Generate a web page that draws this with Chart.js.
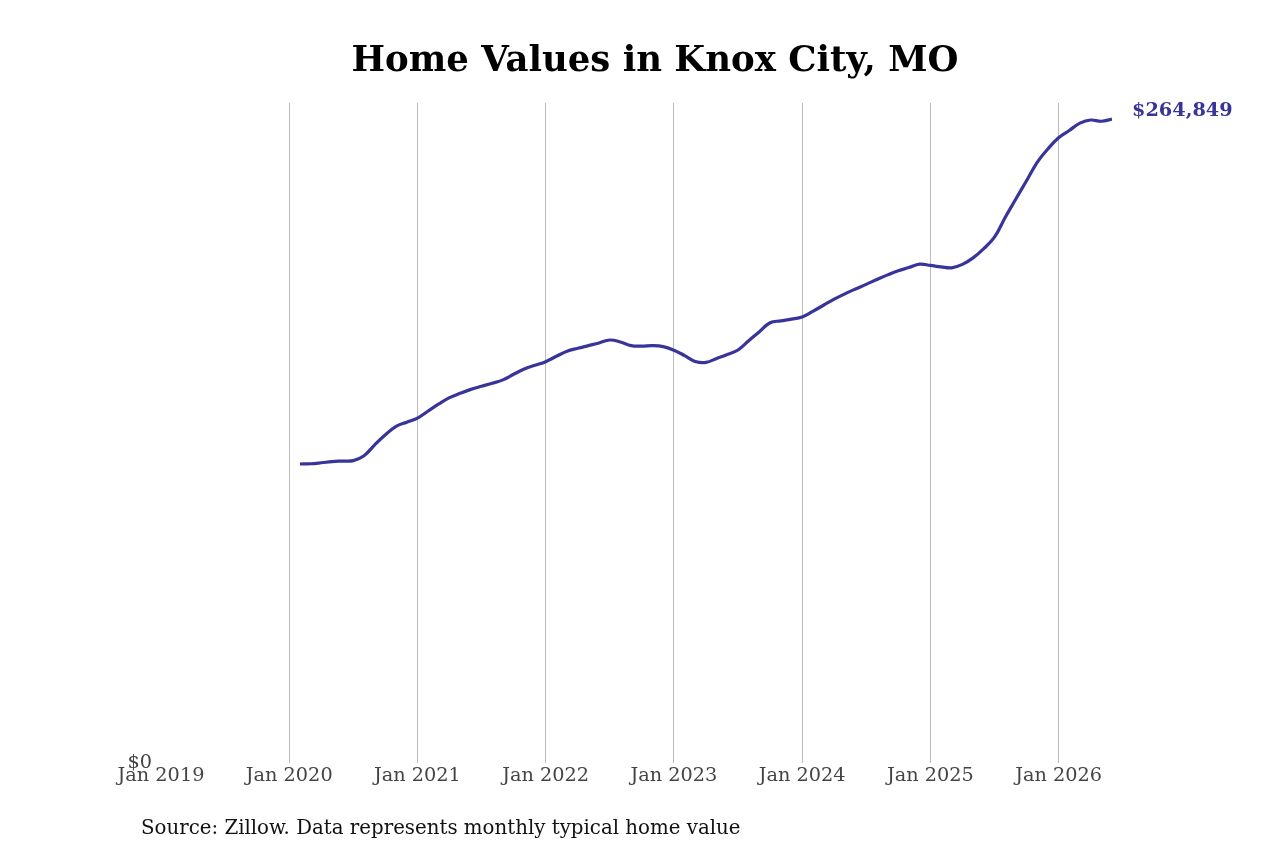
<!DOCTYPE html>
<html>
<head>
<meta charset="utf-8">
<script src="https://cdn.jsdelivr.net/npm/chart.js@4"></script>
<style>
  html, body { margin: 0; padding: 0; background: #fff; }
  #wrap { position: relative; width: 1280px; height: 853px; }
  #title {
    position: absolute; left: 0; width: 1310px; top: 38px;
    text-align: center; font: bold 35.5px "DejaVu Serif", serif; color: #000;
  }
  #source {
    position: absolute; left: 141px; top: 816px;
    font: 19.8px "DejaVu Serif", serif; color: #111;
  }
  canvas { position: absolute; left: 0; top: 0; }
</style>
</head>
<body>
<div id="wrap">
  <canvas id="chart" width="1280" height="853"></canvas>
  <div id="title">Home Values in Knox City, MO</div>
  <div id="source">Source: Zillow. Data represents monthly typical home value</div>
</div>
<script>
// months counted from Jan 2019; data runs Feb 2020 .. Jun 2026
const startMonth = 13;
const homeValues = [
  123000, 123100, 123500, 124000, 124200, 124400, 126400, 130900, 135000, 138500, 140200,
  141900, 144800, 147700, 150300, 152100, 153700, 155000, 156200, 157600, 159900, 162100, 163600,
  165100, 167300, 169400, 170600, 171700, 172800, 174000, 173200, 171700, 171500, 171700, 171300,
  169800, 167600, 165200, 164800, 166400, 168000, 169900, 173700, 177400, 181100, 181900, 182600,
  183500, 185800, 188300, 190800, 193000, 195000, 196900, 198900, 200800, 202500, 203800, 205200,
  204700, 204100, 203700, 205100, 207800, 211600, 216300, 224400, 232000, 239500, 247100, 252600,
  257200, 260200, 263200, 264500, 264000, 264849
];
const tickYears = [2019, 2020, 2021, 2022, 2023, 2024, 2025, 2026];
const lastLabel = '$264,849';

const points = homeValues.map((v, i) => ({ x: startMonth + i, y: v }));
const lineColor = '#38349a';

const endLabel = {
  id: 'endLabel',
  afterDatasetsDraw(chart) {
    const meta = chart.getDatasetMeta(0);
    const p = meta.data[meta.data.length - 1];
    const ctx = chart.ctx;
    ctx.save();
    ctx.font = 'bold 19.3px "DejaVu Serif", serif';
    ctx.fillStyle = lineColor;
    ctx.textBaseline = 'middle';
    ctx.fillText(lastLabel, p.x + 20, p.y - 8);
    ctx.restore();
  }
};

new Chart(document.getElementById('chart'), {
  type: 'line',
  data: {
    datasets: [{
      data: points,
      borderColor: lineColor,
      borderWidth: 3.2,
      pointRadius: 0,
      tension: 0.4,
      fill: false
    }]
  },
  options: {
    responsive: false,
    animation: false,
    layout: { padding: { left: 0, right: 168, top: 103, bottom: 66 } },
    plugins: { legend: { display: false }, tooltip: { enabled: false } },
    scales: {
      x: {
        type: 'linear',
        min: 0,
        max: 89,
        afterBuildTicks: s => { s.ticks = tickYears.map(y => ({ value: (y - 2019) * 12 })); },
        afterFit: s => { s.height = 24; },
        ticks: {
          autoSkip: false,
          maxRotation: 0,
          padding: 1,
          color: '#444',
          font: { family: 'DejaVu Serif', size: 19.3 },
          callback: v => 'Jan ' + (2019 + v / 12)
        },
        grid: {
          color: ctx => ctx.tick && ctx.tick.value === 0 ? 'rgba(0,0,0,0)' : '#bbbbbb',
          lineWidth: 1,
          drawTicks: false
        },
        border: { display: false }
      },
      y: {
        min: 0,
        max: 271500,
        afterBuildTicks: s => { s.ticks = [{ value: 0 }]; },
        afterFit: s => { s.width = 161; },
        ticks: {
          padding: 1,
          color: '#444',
          font: { family: 'DejaVu Serif', size: 19.3 },
          callback: v => '$' + v
        },
        grid: { display: false },
        border: { display: false }
      }
    }
  },
  plugins: [endLabel]
});
</script>
</body>
</html>
